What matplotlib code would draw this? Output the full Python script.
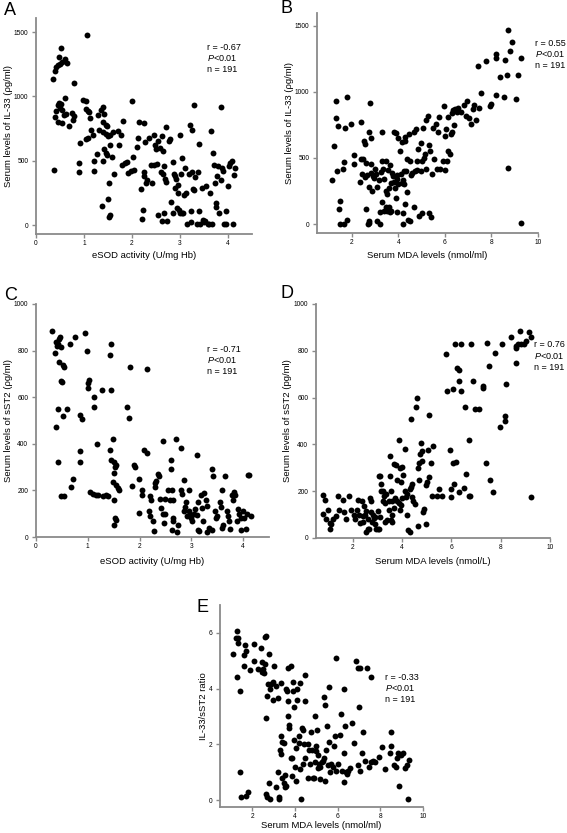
import matplotlib
matplotlib.use("Agg")
import matplotlib.pyplot as plt

plt.rcParams['font.family'] = ['Liberation Sans', 'DejaVu Sans']
plt.rcParams['mathtext.fontset'] = 'custom'
plt.rcParams['mathtext.it'] = 'Liberation Sans:italic'
plt.rcParams['mathtext.rm'] = 'Liberation Sans'

# A: eSOD vs IL-33
a_x = [0.35, 0.40, 0.42, 0.45, 0.48, 0.50, 0.52, 0.55, 0.60, 0.65, 0.80, 1.06,
       0.42, 0.45, 0.48, 0.50, 0.52, 0.55, 0.60, 0.62, 0.58, 0.40, 0.45, 0.55, 0.68, 0.75, 0.78, 0.80, 0.38,
       0.90, 0.90, 0.92, 0.97, 1.05, 1.05, 1.08, 1.10, 1.05, 1.08, 1.12, 1.15, 1.18, 1.20, 1.20, 1.28,
       1.30, 1.32, 1.35, 1.40, 1.40, 1.42, 1.45, 1.48, 1.40, 1.45, 1.50, 1.42, 1.45, 1.48, 1.40, 1.38,
       1.50, 1.52, 1.55, 1.55, 1.58, 1.60, 1.62, 1.52, 1.55, 1.70, 1.72, 1.78, 1.80, 1.82, 1.85, 1.90,
       1.92, 1.98, 2.00, 2.02, 2.05, 2.10, 2.12, 2.15, 2.18, 2.20, 2.22, 2.24, 2.25, 2.26, 2.28, 2.30,
       2.32, 2.35, 2.40, 2.42, 2.45, 2.45, 2.48, 2.50, 2.52, 2.55, 2.58, 2.60, 2.62, 2.64, 2.65, 2.66,
       2.68, 2.70, 2.70, 2.62, 2.66, 2.72, 2.55, 2.78, 2.80, 2.82, 2.85, 2.86, 2.88, 2.90, 2.90, 2.92,
       2.93, 2.95, 2.96, 2.98, 3.00, 3.00, 3.02, 3.04, 3.05, 3.06, 3.08, 3.10, 3.12, 3.15, 3.18, 3.20,
       3.22, 3.22, 3.24, 3.25, 3.28, 3.30, 3.30, 3.32, 3.35, 3.38, 3.40, 3.40, 3.42, 3.45, 3.48, 3.50,
       3.52, 3.55, 3.58, 3.60, 3.62, 3.65, 3.66, 3.68, 3.70, 3.72, 3.74, 3.76, 3.78, 3.80, 3.82, 3.85,
       3.85, 3.88, 3.90, 3.92, 3.95, 3.96, 4.00, 4.02, 4.05, 4.08, 4.10, 4.12, 4.15]
a_y = [1135, 1200, 1230, 1245, 1310, 1255, 1375, 1265, 1290, 1260, 1105, 1475,
       890, 930, 950, 910, 940, 895, 990, 860, 855, 840, 800, 790, 770, 870, 820, 850, 425,
       480, 415, 635, 975, 965, 900, 885, 880, 670, 680, 830, 740, 700, 500, 420, 550,
       855, 740, 895, 920, 800, 860, 780, 770, 720, 710, 690, 590, 560, 545, 500, 150,
       200, 330, 620, 700, 530, 720, 395, 60, 75, 730, 620, 700, 470, 810, 480, 490,
       405, 420, 965, 530, 430, 610, 680, 800, 280, 50, 115, 410, 380, 790, 645, 330,
       350, 680, 470, 330, 700, 465, 620, 590, 475, 650, 600, 410, 690, 575, 400, 460,
       360, 760, 335, 30, 90, 35, 80, 650, 670, 180, 90, 490, 400, 380, 290, 360,
       130, 310, 250, 120, 700, 95, 400, 90, 520, 90, 230, 440, 250, 10, 400, 780,
       20, 110, 740, 410, 280, 930, 270, 370, 5, 410, 630, 110, 5, 285, 40, 20,
       30, 300, 10, 10, 250, 735, 10, 560, 470, 330, 170, 140, 380, 460, 90, 915,
       350, 440, 420, 5, 5, 110, 300, 460, 480, 495, 5, 390, 440]

# B: MDA vs IL-33
b_x = [1.13, 1.25, 1.32, 1.32, 1.35, 1.42, 1.47, 1.45, 1.50, 1.62, 1.65, 1.68, 1.72, 1.78, 1.78, 1.95,
       2.10, 2.10, 2.35, 2.38, 2.40, 2.42, 2.48, 2.50, 2.55, 2.55, 2.60, 2.62, 2.65, 2.70, 2.72, 2.72,
       2.75, 2.75, 2.78, 2.80, 2.82, 2.82, 2.85, 2.90, 2.95, 3.00, 3.05, 3.10, 3.10, 3.15, 3.20, 3.22,
       3.25, 3.30, 3.30, 3.30, 3.35, 3.38, 3.40, 3.45, 3.45, 3.48, 3.50, 3.50, 3.55, 3.58, 3.60, 3.62,
       3.65, 3.68, 3.70, 3.72, 3.78, 3.80, 3.82, 3.85, 3.88, 3.90, 3.92, 3.95, 3.95, 4.00, 4.00, 4.05,
       4.10, 4.15, 4.15, 4.18, 4.20, 4.20, 4.22, 4.25, 4.28, 4.30, 4.30, 4.32, 4.35, 4.38, 4.40, 4.45,
       4.48, 4.50, 4.55, 4.60, 4.65, 4.65, 4.70, 4.75, 4.80, 4.80, 4.85, 4.90, 4.95, 4.95, 5.00, 5.00,
       5.05, 5.10, 5.15, 5.20, 5.20, 5.25, 5.30, 5.30, 5.35, 5.40, 5.45, 5.50, 5.55, 5.60, 5.65, 5.70,
       5.75, 5.80, 5.90, 5.95, 6.00, 6.00, 6.05, 6.10, 6.15, 6.15, 6.20, 6.25, 6.30, 6.30, 6.35, 6.40,
       6.45, 6.50, 6.55, 6.70, 6.80, 6.90, 6.95, 7.05, 7.10, 7.20, 7.25, 7.35, 7.40, 7.45, 7.55, 7.75,
       7.95, 8.00, 8.20, 8.20, 8.20, 8.35, 8.55, 8.60, 8.65, 8.70, 8.70, 8.80, 8.90, 9.05, 9.15, 9.25, 9.25]
b_y = [330, 590, 935, 800, 405, 740, 175, 110, 0, 420, 470, 0, 730, 960, 30, 760,
       520, 455, 320, 490, 770, 380, 495, 625, 605, 355, 460, 115, 370, 0, 20, 280,
       695, 5, 915, 655, 385, 455, 250, 360, 350, 420, 380, 20, 280, 330, 0, 90,
       395, 700, 480, 165, 420, 340, 95, 480, 250, 130, 100, 230, 410, 130, 270, 450,
       90, 310, 100, 385, 360, 700, 320, 270, 200, 690, 90, 370, 340, 300, 650, 550,
       380, 620, 310, 80, 0, 330, 400, 300, 150, 660, 630, 400, 490, 240, 30, 680,
       480, 25, 370, 385, 130, 700, 405, 720, 480, 410, 570, 60, 610, 400, 80, 480,
       730, 500, 530, 420, 790, 820, 80, 600, 550, 50, 380, 730, 490, 760, 420, 700,
       810, 420, 480, 890, 410, 670, 720, 480, 550, 810, 530, 680, 700, 840, 860, 750,
       870, 850, 880, 850, 900, 820, 930, 800, 760, 870, 900, 790, 1200, 880, 990, 1235,
       890, 910, 1260, 1285, 975, 1110, 960, 1245, 1130, 1470, 425, 1310, 1380, 950, 1130, 1260, 5]

# C: eSOD vs sST2
c_x = [0.30, 0.38, 0.40, 0.42, 0.45, 0.47, 0.48, 0.36, 0.45, 0.52, 0.55, 0.48, 0.50, 0.42, 0.38, 0.42,
       0.52, 0.60, 0.48, 0.55, 0.65, 0.75, 0.68, 0.72, 0.85, 0.88, 0.85, 0.85, 0.95, 0.98, 1.00, 1.02,
       1.00, 1.05, 1.10, 1.12, 1.12, 1.18, 1.15, 1.20, 1.28, 1.30, 1.35, 1.40, 1.45, 1.42, 1.45, 1.48,
       1.42, 1.45, 1.50, 1.55, 1.52, 1.50, 1.48, 1.55, 1.58, 1.60, 1.50, 1.52, 1.55, 1.50, 1.75, 1.80,
       1.82, 1.85, 1.90, 1.92, 1.98, 1.98, 2.05, 2.05, 2.08, 2.15, 2.15, 2.20, 2.22, 2.18, 2.20, 2.25,
       2.28, 2.30, 2.30, 2.32, 2.35, 2.38, 2.40, 2.42, 2.45, 2.45, 2.48, 2.50, 2.50, 2.55, 2.58, 2.60,
       2.60, 2.62, 2.64, 2.65, 2.65, 2.62, 2.70, 2.72, 2.75, 2.80, 2.80, 2.82, 2.85, 2.85, 2.88, 2.90,
       2.92, 2.95, 2.98, 3.00, 3.02, 3.05, 3.08, 3.10, 3.10, 3.12, 3.12, 3.15, 3.18, 3.20, 3.22, 3.25,
       3.28, 3.30, 3.30, 3.35, 3.40, 3.42, 3.45, 3.48, 3.50, 3.55, 3.58, 3.60, 3.62, 3.65, 3.68, 3.70,
       3.72, 3.75, 3.78, 3.80, 3.82, 3.85, 3.88, 3.90, 3.92, 3.95, 4.00, 4.02, 4.05, 4.08, 4.10, 4.12,
       4.15, 3.40, 3.60, 2.95, 3.95]
c_y = [885, 835, 820, 830, 850, 860, 815, 790, 750, 740, 730, 670, 665, 550, 470, 320,
       520, 550, 175, 175, 830, 860, 215, 250, 525, 505, 370, 320, 875, 800, 660, 675,
       640, 195, 185, 600, 560, 400, 180, 180, 630, 175, 180, 175, 830, 780, 630, 420,
       375, 330, 320, 310, 300, 275, 235, 225, 210, 200, 160, 80, 75, 50, 560, 510,
       730, 220, 310, 300, 250, 105, 200, 180, 375, 360, 720, 175, 160, 110, 90, 70,
       25, 230, 215, 240, 270, 260, 165, 125, 410, 100, 60, 165, 100, 200, 160, 330,
       290, 200, 160, 80, 70, 30, 420, 20, 50, 380, 200, 185, 245, 110, 130, 150,
       90, 110, 100, 80, 70, 100, 120, 95, 350, 30, 150, 25, 180, 125, 70, 190,
       160, 135, 20, 40, 30, 260, 110, 80, 90, 150, 130, 40, 50, 260, 110, 90,
       70, 35, 180, 160, 195, 180, 70, 120, 100, 30, 110, 80, 35, 100, 265, 265,
       90, 290, 200, 200, 80]

# D: MDA vs sST2
d_x = [0.80, 0.85, 0.78, 0.90, 1.00, 1.05, 1.05, 1.20, 1.30, 1.40, 1.42, 1.58, 1.72, 1.92, 2.10, 2.20,
       2.25, 2.30, 2.35, 2.40, 2.45, 2.50, 2.52, 2.55, 2.60, 2.62, 2.65, 2.70, 2.72, 2.75, 2.78, 2.80,
       2.85, 2.90, 2.95, 3.00, 3.05, 3.05, 3.10, 3.15, 3.15, 3.20, 3.20, 3.25, 3.30, 3.30, 3.35, 3.40,
       3.45, 3.45, 3.50, 3.50, 3.55, 3.55, 3.60, 3.60, 3.65, 3.65, 3.70, 3.75, 3.80, 3.80, 3.85, 3.85,
       3.90, 3.95, 3.90, 3.95, 4.00, 4.05, 4.10, 4.15, 4.20, 4.20, 4.25, 4.30, 4.30, 4.35, 4.40, 4.40,
       4.45, 4.50, 4.35, 4.55, 4.65, 4.70, 4.70, 4.72, 4.75, 4.80, 4.80, 4.65, 4.85, 4.90, 4.95, 5.00,
       5.05, 4.95, 5.15, 5.10, 5.10, 5.25, 5.20, 5.40, 5.50, 5.76, 5.60, 5.81, 5.95, 6.00, 6.00, 6.05,
       6.08, 6.10, 6.20, 6.16, 6.39, 6.30, 6.22, 6.30, 6.50, 6.32, 6.39, 6.60, 6.53, 6.70, 6.70, 6.75,
       6.80, 6.89, 6.97, 7.10, 7.27, 7.30, 7.40, 7.55, 7.43, 7.70, 7.54, 7.77, 8.05, 8.22, 8.40, 8.19,
       8.19, 7.95, 8.60, 8.62, 8.70, 8.82, 8.96, 9.03, 8.78, 9.22, 9.16, 8.62, 9.23, 1.10, 1.65, 1.85,
       2.05, 2.15, 2.40, 2.90, 3.00, 3.10, 3.60, 4.00, 4.60, 4.10]
d_y = [183, 164, 104, 83, 121, 66, 40, 83, 93, 179, 121, 161, 83, 121, 83, 161,
       100, 65, 160, 95, 135, 100, 25, 115, 80, 40, 40, 170, 160, 110, 70, 100,
       85, 90, 40, 40, 40, 265, 265, 230, 200, 200, 160, 180, 150, 70, 190, 75,
       160, 120, 350, 265, 75, 200, 70, 160, 315, 130, 170, 310, 160, 250, 150, 420,
       300, 140, 120, 240, 305, 270, 200, 175, 190, 100, 35, 25, 210, 220, 230, 175,
       160, 145, 510, 560, 300, 320, 250, 360, 405, 370, 330, 50, 110, 125, 225, 240,
       375, 60, 320, 260, 525, 395, 180, 180, 210, 785, 180, 630, 375, 210, 175, 320,
       635, 230, 325, 830, 830, 195, 725, 720, 215, 670, 630, 275, 560, 420, 180, 180,
       830, 670, 550, 550, 650, 640, 320, 250, 835, 195, 735, 790, 830, 660, 860, 500,
       520, 475, 810, 820, 830, 830, 830, 840, 885, 860, 880, 750, 175, 60, 110, 180,
       100, 120, 70, 60, 115, 90, 100, 170, 600, 380]

# E: MDA vs IL-33/sST2
e_x = [1.10, 1.25, 1.30, 1.32, 1.35, 1.30, 1.45, 1.45, 1.50, 1.60, 1.62, 1.65, 1.70, 1.70, 1.80, 1.90,
       2.10, 2.10, 2.30, 2.40, 2.45, 2.45, 2.50, 2.55, 2.60, 2.60, 2.65, 2.65, 2.65, 2.70, 2.70, 2.75,
       2.80, 2.80, 2.85, 2.85, 2.90, 3.00, 3.00, 3.05, 3.10, 3.10, 3.20, 3.20, 3.25, 3.25, 3.30, 3.35,
       3.35, 3.35, 3.40, 3.40, 3.50, 3.50, 3.55, 3.55, 3.60, 3.60, 3.65, 3.70, 3.70, 3.70, 3.75, 3.75,
       3.80, 3.80, 3.85, 3.85, 3.90, 3.90, 3.95, 3.95, 4.00, 4.05, 4.05, 4.10, 4.10, 4.20, 4.20, 4.25,
       4.25, 4.30, 4.35, 4.40, 4.40, 4.45, 4.50, 4.50, 4.50, 4.60, 4.60, 4.65, 4.70, 4.75, 4.80, 4.85,
       4.90, 4.95, 4.95, 5.00, 5.00, 5.05, 5.10, 5.10, 5.15, 5.20, 5.20, 5.25, 5.30, 5.35, 5.35, 5.40,
       5.40, 5.45, 5.50, 5.55, 5.60, 5.60, 5.65, 5.70, 5.80, 5.85, 5.90, 5.95, 6.00, 6.10, 5.95, 6.15,
       6.20, 6.30, 6.30, 6.35, 6.40, 6.45, 6.50, 6.29, 6.60, 6.85, 6.70, 6.75, 6.96, 7.04, 6.95, 7.00,
       7.05, 7.15, 7.20, 7.30, 7.58, 7.45, 7.55, 7.40, 7.65, 7.75, 7.95, 8.10, 8.20, 8.45, 8.50, 8.50,
       8.65, 8.75, 8.80, 8.85, 8.90, 8.95, 9.05, 9.15, 9.25, 9.30, 9.35]
e_y = [5.25, 5.80, 6.05, 5.65, 5.80, 4.40, 3.90, 1.00, 0.10, 4.80, 5.20, 5.55, 5.35, 0.15, 0.30, 4.65,
       5.60, 5.00, 4.70, 5.45, 4.95, 4.60, 4.70, 4.55, 4.90, 5.85, 5.90, 2.95, 0.20, 0.10, 3.75, 4.15,
       5.25, 0.60, 0.05, 4.00, 4.15, 3.60, 4.25, 4.80, 4.10, 0.45, 3.65, 1.00, 0.05, 0.10, 1.80, 4.20,
       2.30, 1.65, 2.10, 0.80, 2.05, 0.60, 0.45, 0.90, 4.00, 0.50, 3.90, 3.55, 4.75, 3.00, 2.70, 2.60,
       4.80, 1.50, 1.50, 0.85, 4.25, 3.90, 3.35, 2.15, 1.20, 1.85, 0.70, 3.60, 4.00, 2.30, 2.05, 4.20,
       1.10, 0.05, 2.60, 2.50, 1.30, 2.00, 4.50, 3.55, 1.50, 2.00, 0.80, 1.80, 1.30, 2.45, 1.80, 0.80,
       0.80, 3.00, 1.35, 1.75, 1.95, 2.50, 1.60, 1.15, 1.30, 1.20, 0.75, 1.35, 1.40, 1.50, 3.70, 3.40,
       0.70, 1.80, 2.65, 1.25, 4.05, 2.10, 1.00, 1.30, 1.20, 1.95, 2.30, 1.05, 1.30, 2.35, 5.10, 3.10,
       1.05, 1.70, 0.65, 2.65, 1.00, 0.95, 1.05, 4.00, 1.15, 5.00, 2.75, 2.05, 4.75, 4.75, 1.25, 3.35,
       1.05, 1.70, 2.45, 1.40, 4.40, 1.20, 1.35, 4.75, 1.40, 1.35, 1.55, 1.90, 1.10, 1.70, 1.95, 2.45,
       1.25, 1.20, 1.50, 1.70, 0.50, 1.60, 1.70, 1.15, 1.25, 0.05, 1.45]

W, H = 567, 833
fig = plt.figure(figsize=(W / 100, H / 100), dpi=100)
gray = '#8a8a8a'


def make_ax(left, right, top, bottom):
    return fig.add_axes([left / W, 1 - bottom / H, (right - left) / W, (bottom - top) / H])


def style(ax, box, xs, ys, xlim, ylim, xticks, yticks, xlabel, ylabel, ylab_x, xlab_y):
    left, right, top, bottom = box
    ax.scatter(xs, ys, s=18, c='black', linewidths=0, zorder=3, clip_on=False)
    ax.set_xlim(*xlim)
    ax.set_ylim(*ylim)
    ax.set_xticks(xticks)
    ax.set_yticks(yticks)
    for sp in ['top', 'right']:
        ax.spines[sp].set_visible(False)
    for sp in ['left', 'bottom']:
        ax.spines[sp].set_color(gray)
        ax.spines[sp].set_linewidth(1.3)
    ax.tick_params(direction='out', length=3, width=1, color=gray, labelsize=4.8)
    ax.tick_params(axis='x', pad=1.5)
    ax.tick_params(axis='y', pad=2.5)
    ax.set_xlabel(xlabel, fontsize=6.8, va='center')
    ax.set_ylabel(ylabel, fontsize=6.8, va='center')
    # label positions in pixels -> axes fractions
    ax.yaxis.set_label_coords((ylab_x - left) / (right - left), 0.5)
    ax.xaxis.set_label_coords(0.5, (bottom - xlab_y) / (bottom - top))


def stats(x, y, r):
    fig.text(x / W, 1 - y / H, f"r = {r}", fontsize=6.5, va='center')
    fig.text(x / W, 1 - (y + 11) / H, r"$\it{P}$<0.01", fontsize=6.5, va='center')
    fig.text(x / W, 1 - (y + 22) / H, "n = 191", fontsize=6.5, va='center')


def letter(x, y, s):
    fig.text(x / W, 1 - y / H, s, fontsize=13, va='baseline')


box = (36, 252, 18, 234)
ax = make_ax(*box)
style(ax, box, a_x, a_y, (0, 4.5), (-70, 1610), [0, 1, 2, 3, 4], [0, 500, 1000, 1500],
      'eSOD activity (U/mg Hb)', 'Serum levels of IL-33 (ρg/ml)', 9, 256)
stats(207, 47, '-0.67')
letter(4, 15, 'A')

box = (317, 538, 13, 233)
ax = make_ax(*box)
style(ax, box, b_x, b_y, (0.5, 10), (-68, 1598), [2, 4, 6, 8, 10], [0, 500, 1000, 1500],
      'Serum MDA levels (nmol/ml)', 'Serum levels of IL-33 (ρg/ml)', 289, 256)
stats(535, 43, '0.55')
letter(281, 13, 'B')

box = (36, 269, 304, 537)
ax = make_ax(*box)
style(ax, box, c_x, c_y, (0, 4.5), (0, 1000), [0, 1, 2, 3, 4], [0, 200, 400, 600, 800, 1000],
      'eSOD activity (U/mg Hb)', 'Serum levels of sST2 (ρg/ml)', 9, 561)
stats(207, 349, '-0.71')
letter(4, 300, 'C')

box = (316, 550, 304, 538)
ax = make_ax(*box)
style(ax, box, d_x, d_y, (0.5, 10), (0, 1000), [2, 4, 6, 8, 10], [0, 200, 400, 600, 800, 1000],
      'Serum MDA levels (nmol/L)', 'Serum levels of sST2 (pg/ml)', 288, 561)
stats(534, 345, '0.76')
letter(281, 298, 'D')

box = (220, 423, 605, 807)
ax = make_ax(*box)
style(ax, box, e_x, e_y, (0.5, 10), (-0.25, 7), [2, 4, 6, 8, 10], [0, 2, 4, 6],
      'Serum MDA levels (nmol/ml)', 'IL-33/sST2 ratio', 203, 826)
stats(385, 677, '-0.33')
letter(197, 612, 'E')

fig.savefig('out.png', dpi=100)
